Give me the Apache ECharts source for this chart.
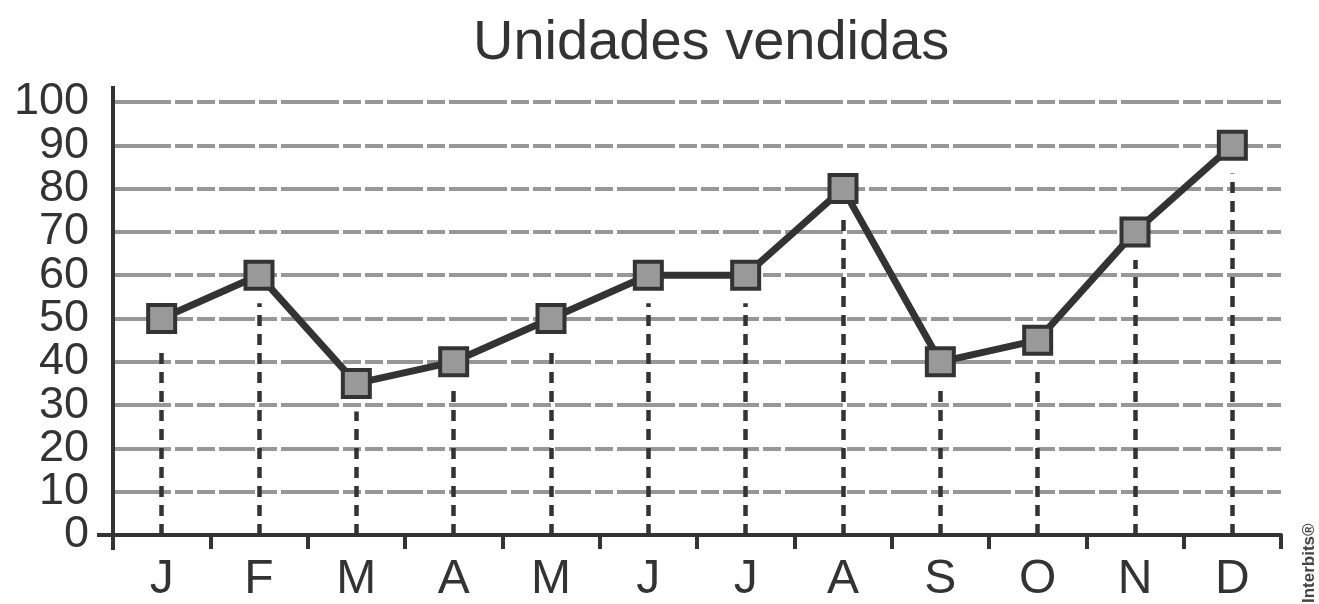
<!DOCTYPE html>
<html>
<head>
<meta charset="utf-8">
<script src="https://cdn.jsdelivr.net/npm/echarts@6/dist/echarts.min.js"></script>
<style>
html,body{margin:0;padding:0;background:#fff;}
#chart{width:1319px;height:604px;}
</style>
</head>
<body>
<div id="chart"></div>
<script>
const titleText = 'Unidades vendidas';
const months = ['J','F','M','A','M','J','J','A','S','O','N','D'];
const sold = [50, 60, 35, 40, 50, 60, 60, 80, 40, 45, 70, 90];
const yMin = 0, yMax = 100, yStep = 10;
const credit = 'Interbits®';

const GRID_LEFT = 113, GRID_RIGHT = 38, GRID_TOP = 102, GRID_BOTTOM = 66;
const DARK = '#333333';
const FONT = 'Liberation Sans, Arial, sans-serif';
const DROP_GAP = 6.5; // value units between marker and start of drop line

const dropLines = sold.map((v, i) => [
  { coord: [i, yMin] },
  { coord: [i, v - DROP_GAP] }
]);

const yLabelStyle = { margin: 24, color: DARK, fontSize: 45, fontFamily: FONT };

const chart = echarts.init(document.getElementById('chart'), null, { renderer: 'canvas' });
chart.setOption({
  animation: false,
  backgroundColor: '#ffffff',
  title: {
    text: titleText,
    left: 468,
    top: 11,
    textStyle: { fontFamily: FONT, fontSize: 56, fontWeight: 'normal', color: DARK }
  },
  grid: { left: GRID_LEFT, right: GRID_RIGHT, top: GRID_TOP, bottom: GRID_BOTTOM, containLabel: false },
  xAxis: {
    type: 'category',
    data: months,
    boundaryGap: true,
    axisLine: { show: true, lineStyle: { color: DARK, width: 4 } },
    axisTick: { show: true, interval: 0, length: 14, lineStyle: { color: DARK, width: 4 } },
    axisLabel: { interval: 0, margin: 21, color: DARK, fontSize: 48, fontFamily: FONT },
    splitLine: { show: false }
  },
  yAxis: [{
    type: 'value',
    min: yMin, max: yMax, interval: yStep,
    axisLine: { show: false },
    axisTick: { show: false },
    axisLabel: Object.assign({ showMinLabel: false, showMaxLabel: false }, yLabelStyle),
    splitLine: {
      show: true,
      lineStyle: { color: '#979797', width: 4, type: [58, 4, 18, 4, 18, 4, 36, 4, 18, 4], dashOffset: 0 }
    }
  }, {
    type: 'value',
    position: 'left',
    min: yMin, max: yMax, interval: yStep,
    axisLine: { show: false },
    axisTick: { show: false },
    splitLine: { show: false },
    axisLabel: Object.assign({
      showMinLabel: true, showMaxLabel: true,
      formatter: v => (v === yMin || v === yMax) ? String(v) : ''
    }, yLabelStyle)
  }],
  series: [{
    type: 'line',
    yAxisIndex: 0,
    data: sold,
    symbol: 'rect',
    symbolSize: 27,
    z: 5,
    lineStyle: { color: DARK, width: 7 },
    itemStyle: { color: '#999999', borderColor: DARK, borderWidth: 4 },
    markLine: {
      silent: true,
      symbol: ['none', 'none'],
      label: { show: false },
      lineStyle: { color: DARK, width: 4.5, type: [11, 8] },
      z: 3,
      data: dropLines
    }
  }]
});

const y0 = chart.convertToPixel({ yAxisIndex: 0 }, yMin);
const yTop = chart.convertToPixel({ yAxisIndex: 0 }, yMax);
chart.setOption({
  graphic: [
    { type: 'line', z: 10, shape: { x1: GRID_LEFT, y1: yTop - 16, x2: GRID_LEFT, y2: y0 + 15 }, style: { stroke: DARK, lineWidth: 4 } },
    { type: 'line', z: 10, shape: { x1: GRID_LEFT - 16, y1: y0, x2: GRID_LEFT, y2: y0 }, style: { stroke: DARK, lineWidth: 4 } },
    { type: 'text', z: 10, x: 1301, y: 603, rotation: Math.PI / 2,
      style: { text: credit, fontSize: 17, fontWeight: 'bold', fill: '#444', fontFamily: 'Liberation Sans Narrow, Liberation Sans, Arial, sans-serif', textAlign: 'left', textVerticalAlign: 'top' } }
  ]
});
</script>
</body>
</html>
